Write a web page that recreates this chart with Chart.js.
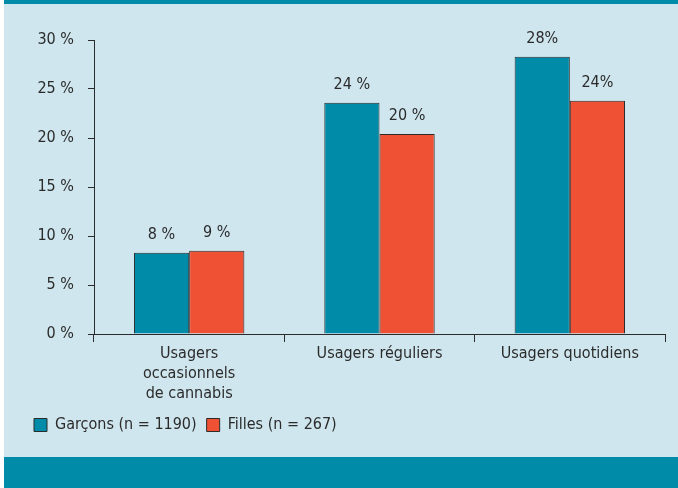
<!DOCTYPE html>
<html>
<head>
<meta charset="utf-8">
<script src="https://cdn.jsdelivr.net/npm/chart.js@4"></script>
<style>
  html, body { margin: 0; padding: 0; background: #ffffff; }
  #wrap { position: absolute; left: 4px; top: 0; width: 674px; height: 488px; background: #cfe6ee; }
  #topband { position: absolute; left: 0; top: 0; width: 674px; height: 4px; background: #008ba8; }
  #bottomband { position: absolute; left: 0; top: 457px; width: 674px; height: 31px; background: #008ba8; }
  #box { position: absolute; left: 0; top: 4px; width: 674px; height: 453px; }
</style>
</head>
<body>
<div id="wrap">
  <div id="topband"></div>
  <div id="box"><canvas id="grafik"></canvas></div>
  <div id="bottomband"></div>
</div>
<script>
const categories = [['Usagers', 'occasionnels', 'de cannabis'], 'Usagers réguliers', 'Usagers quotidiens'];
const garcons = [8.3, 23.6, 28.3];
const filles = [8.5, 20.4, 23.8];
const garconsLabels = ['8 %', '24 %', '28%'];
const fillesLabels = ['9 %', '20 %', '24%'];
const seriesNames = ['Garçons (n = 1190)', 'Filles (n = 267)'];

const police = "'Liberation Sans Narrow', 'DejaVu Sans Condensed', 'Noto Sans', sans-serif";
Chart.defaults.font.family = police;
Chart.defaults.font.size = 16;
Chart.defaults.color = '#2b2b2b';

// valeurs au-dessus des barres
const etiquettes = {
    id: 'etiquettes',
    afterDatasetsDraw(chart) {
        const ctx = chart.ctx;
        const textes = [garconsLabels, fillesLabels];
        ctx.save();
        ctx.font = '16px ' + police;
        ctx.fillStyle = '#2b2b2b';
        ctx.textAlign = 'center';
        ctx.textBaseline = 'bottom';
        chart.data.datasets.forEach((ds, i) => {
            chart.getDatasetMeta(i).data.forEach((bar, j) => {
                ctx.fillText(textes[i][j], bar.x, bar.y - 10);
            });
        });
        ctx.restore();
    }
};

const data = {
    labels: categories,
    datasets: [{
        label: seriesNames[0],
        data: garcons,
        backgroundColor: '#008ba8',
        borderColor: '#2b2b2b',
        borderWidth: 1,
        borderSkipped: 'bottom'
    }, {
        label: seriesNames[1],
        data: filles,
        backgroundColor: '#ef5134',
        borderColor: '#2b2b2b',
        borderWidth: 1,
        borderSkipped: 'bottom'
    }]
};

const config = {
    type: 'bar',
    data: data,
    options: {
        responsive: true,
        maintainAspectRatio: false,
        animation: false,
        layout: { padding: { left: 20, right: 13, top: 36, bottom: 14 } },
        datasets: {
            bar: { categoryPercentage: 0.58, barPercentage: 1 }
        },
        scales: {
            x: {
                offset: true,
                grid: { display: true, offset: true, drawOnChartArea: false, drawTicks: true, tickLength: 8, color: '#2b2b2b' },
                border: { display: true, color: '#2b2b2b', width: 1 },
                ticks: { padding: 2, maxRotation: 0, autoSkip: false, color: '#2b2b2b', font: { size: 16, lineHeight: 1.25 } },
                afterFit(scale) { scale.height = 73; }
            },
            y: {
                min: 0,
                max: 30,
                ticks: { stepSize: 5, padding: 14, color: '#2b2b2b', callback: v => v + ' %' },
                grid: { display: true, drawOnChartArea: false, drawTicks: true, tickLength: 6, color: '#2b2b2b' },
                border: { display: true, color: '#2b2b2b', width: 1 },
                afterFit(scale) { scale.width = 70; }
            }
        },
        plugins: {
            legend: {
                position: 'bottom',
                align: 'start',
                labels: { boxWidth: 13, boxHeight: 13, padding: 10, color: '#2b2b2b', font: { size: 16 } }
            },
            tooltip: { enabled: false }
        }
    },
    plugins: [etiquettes]
};

const myChart = new Chart(document.getElementById('grafik'), config);
</script>
</body>
</html>
